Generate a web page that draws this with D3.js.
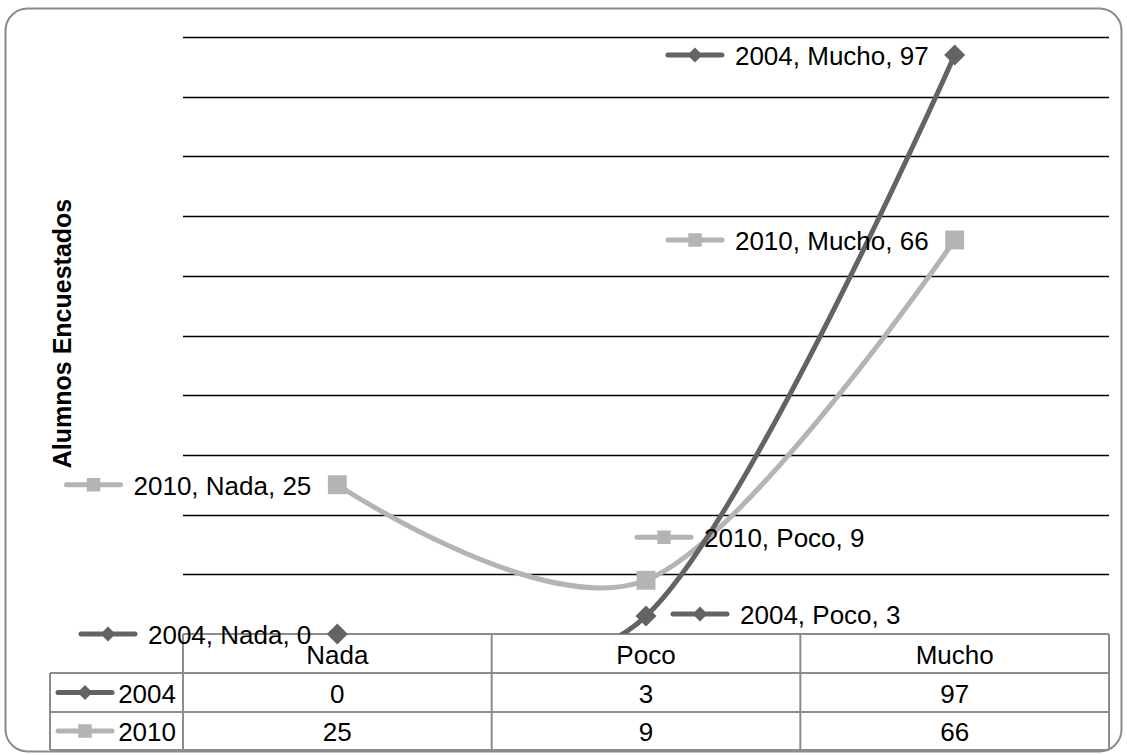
<!DOCTYPE html>
<html>
<head>
<meta charset="utf-8">
<script src="https://cdn.jsdelivr.net/npm/d3@7"></script>
<style>
  html, body { margin: 0; padding: 0; background: #fff; }
  svg { display: block; font-family: "Liberation Sans", Arial, sans-serif; }
</style>
</head>
<body>
<svg id="chart" width="1127" height="755"></svg>
<script>
// ---- data ----
const categories = ["Nada", "Poco", "Mucho"];
const seriesNames = ["2004", "2010"];
const values2004 = [0, 3, 97];
const values2010 = [25, 9, 66];
const yTicks = [0, 10, 20, 30, 40, 50, 60, 70, 80, 90, 100];
const yTitle = "Alumnos Encuestados";

// ---- styles / layout ----
const W = 1127, H = 755;
const plot = { left: 183, right: 1109, top: 37, bottom: 634 };
const colors = { "2004": "#636363", "2010": "#b4b4b4" };
const symbols = { "2004": "diamond", "2010": "square" };
const fontSize = 26;
// label placement per point (style only)
const labelPlacement = {
  "2004": ["left", "right", "left"],
  "2010": ["left", "above", "left"]
};

const series = [
  { name: seriesNames[0], values: values2004 },
  { name: seriesNames[1], values: values2010 }
];

const svg = d3.select("#chart");

// chart area border
svg.append("rect")
  .attr("x", 5.5).attr("y", 8.5)
  .attr("width", 1116).attr("height", 743)
  .attr("rx", 22).attr("ry", 22)
  .attr("fill", "#fff")
  .attr("stroke", "#8a8a8a").attr("stroke-width", 2);

const x = d3.scaleBand().domain(categories).range([plot.left, plot.right]).padding(0);
const y = d3.scaleLinear().domain([0, 100]).range([plot.bottom, plot.top]);
const cx = c => x(c) + x.bandwidth() / 2;

// gridlines
svg.append("g").selectAll("line")
  .data(yTicks.filter(t => t > 0))
  .join("line")
  .attr("x1", plot.left).attr("x2", plot.right)
  .attr("y1", d => Math.round(y(d)) + 0.5).attr("y2", d => Math.round(y(d)) + 0.5)
  .attr("stroke", "#000").attr("stroke-width", 1.6);

// y title
svg.append("text")
  .attr("transform", `translate(71, ${(plot.top + plot.bottom) / 2 - 2}) rotate(-90)`)
  .attr("text-anchor", "middle")
  .attr("font-weight", "bold")
  .attr("font-size", 25)
  .attr("fill", "#000")
  .text(yTitle);

// ---- data table ----
const rowTop = plot.bottom, rowH = [39, 39, 38];
const rowY = [rowTop, rowTop + rowH[0], rowTop + rowH[0] + rowH[1], rowTop + rowH[0] + rowH[1] + rowH[2]];
const tableLeft = 50;
const tbl = svg.append("g").attr("stroke", "#8c8c8c").attr("stroke-width", 2);
tbl.append("line").attr("x1", plot.left).attr("x2", plot.right).attr("y1", rowY[0]).attr("y2", rowY[0]);
[1, 2, 3].forEach(i => {
  tbl.append("line").attr("x1", tableLeft).attr("x2", plot.right).attr("y1", rowY[i]).attr("y2", rowY[i]);
});
tbl.append("line").attr("x1", tableLeft).attr("x2", tableLeft).attr("y1", rowY[1]).attr("y2", rowY[3]);
const colEdges = categories.map(c => x(c)).concat([plot.right]);
tbl.selectAll("line.v").data(colEdges).join("line").attr("class", "v")
  .attr("x1", d => d).attr("x2", d => d).attr("y1", rowY[0]).attr("y2", rowY[3]);

// header labels
svg.append("g").selectAll("text").data(categories).join("text")
  .attr("x", d => cx(d)).attr("y", (rowY[0] + rowY[1]) / 2 + 1)
  .attr("dominant-baseline", "central").attr("text-anchor", "middle")
  .attr("font-size", fontSize).attr("fill", "#000").text(d => d);

function drawMarker(g, name, px, py, size) {
  if (symbols[name] === "diamond") {
    const r = size / 2;
    g.append("path")
      .attr("d", `M${px},${py - r}L${px + r},${py}L${px},${py + r}L${px - r},${py}Z`)
      .attr("fill", colors[name]);
  } else {
    const r = size / 2 * 0.9;
    g.append("rect").attr("x", px - r).attr("y", py - r).attr("width", 2 * r).attr("height", 2 * r)
      .attr("fill", colors[name]);
  }
}
function drawKey(g, name, x0, yc) {
  g.append("line").attr("x1", x0).attr("x2", x0 + 54).attr("y1", yc).attr("y2", yc)
    .attr("stroke", colors[name]).attr("stroke-width", 5).attr("stroke-linecap", "round");
  drawMarker(g, name, x0 + 27, yc, 15);
}

// table rows
series.forEach((s, i) => {
  const yc = (rowY[i + 1] + rowY[i + 2]) / 2;
  const g = svg.append("g");
  drawKey(g, s.name, 58, yc);
  g.append("text").attr("x", 176).attr("y", yc + 1)
    .attr("dominant-baseline", "central").attr("text-anchor", "end")
    .attr("font-size", fontSize).attr("fill", "#000").text(s.name);
  g.selectAll("text.v").data(s.values).join("text").attr("class", "v")
    .attr("x", (d, j) => cx(categories[j])).attr("y", yc + 1)
    .attr("dominant-baseline", "central").attr("text-anchor", "middle")
    .attr("font-size", fontSize).attr("fill", "#000").text(d => d);
});

// ---- lines ----
svg.append("clipPath").attr("id", "plotclip")
  .append("rect").attr("x", plot.left - 20).attr("y", 0)
  .attr("width", plot.right - plot.left + 40).attr("height", plot.bottom);

const line = d3.line()
  .x((d, i) => cx(categories[i]))
  .y(d => y(d))
  .curve(d3.curveCardinal.tension(0));

const lines = svg.append("g").attr("clip-path", "url(#plotclip)");
// draw 2010 first then 2004 on top
[series[1], series[0]].forEach(s => {
  lines.append("path").datum(s.values)
    .attr("d", line)
    .attr("fill", "none")
    .attr("stroke", colors[s.name])
    .attr("stroke-width", 5)
    .attr("stroke-linejoin", "round");
});

// markers
const mk = svg.append("g");
[series[1], series[0]].forEach(s => {
  s.values.forEach((v, i) => drawMarker(mk, s.name, cx(categories[i]), y(v), 21));
});

// ---- data labels ----
const lbl = svg.append("g");
series.forEach(s => {
  s.values.forEach((v, i) => {
    const px = cx(categories[i]), py = y(v);
    const place = labelPlacement[s.name][i];
    const g = lbl.append("g");
    const t = g.append("text").attr("font-size", fontSize).attr("fill", "#000")
      .attr("dominant-baseline", "central")
      .text(`${s.name}, ${categories[i]}, ${v}`);
    const tw = t.node().getComputedTextLength();
    let keyX, textX, yc;
    if (place === "left") {
      textX = px - 26 - tw; keyX = textX - 67; yc = py;
    } else if (place === "right") {
      keyX = px + 27; textX = keyX + 67; yc = py - 2;
    } else {
      keyX = px - 9; textX = keyX + 67; yc = py - 43;
    }
    t.attr("x", textX).attr("y", yc + 1);
    drawKey(g, s.name, keyX, yc);
  });
});
</script>
</body>
</html>
